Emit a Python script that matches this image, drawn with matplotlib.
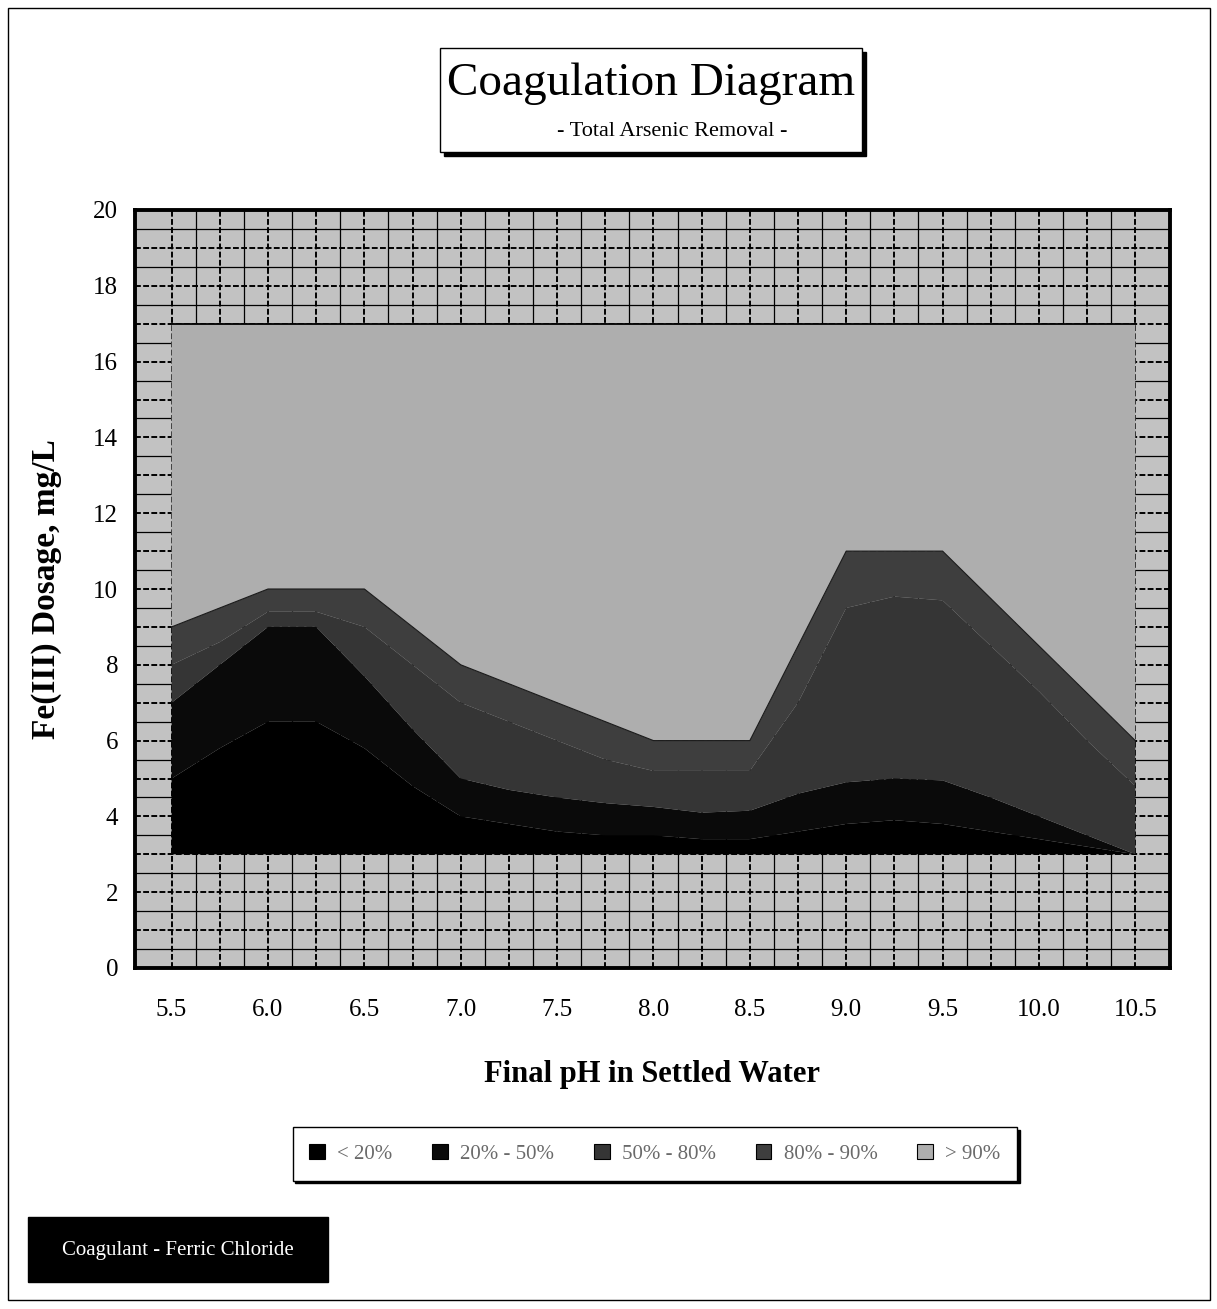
import numpy as np
import matplotlib
matplotlib.use("Agg")
import matplotlib.pyplot as plt
from matplotlib.patches import Rectangle, Patch

plt.rcParams['font.family'] = ['Liberation Serif', 'DejaVu Serif']

# ---------------- data ----------------
ph = [5.5, 5.75, 6.0, 6.25, 6.5, 6.75, 7.0, 7.25, 7.5, 7.75, 8.0,
      8.25, 8.5, 8.75, 9.0, 9.25, 9.5, 9.75, 10.0, 10.25, 10.5]
# lower limit of the diagram (mg/L)
base = [3, 3, 3, 3, 3, 3, 3, 3, 3, 3, 3, 3, 3, 3, 3, 3, 3, 3, 3, 3, 3]
# upper dosage boundary of each removal band (mg/L)
top_lt20 = [5.0, 5.8, 6.5, 6.5, 5.8, 4.8, 4.0, 3.8, 3.6, 3.5, 3.5,
            3.4, 3.4, 3.6, 3.8, 3.9, 3.8, 3.6, 3.4, 3.2, 3.0]
top_20_50 = [7.0, 8.0, 9.0, 9.0, 7.7, 6.3, 5.0, 4.7, 4.5, 4.35, 4.25,
             4.1, 4.15, 4.6, 4.9, 5.0, 4.95, 4.5, 4.0, 3.5, 3.0]
top_50_80 = [8.0, 8.6, 9.4, 9.4, 9.0, 8.0, 7.0, 6.5, 6.0, 5.5, 5.2,
             5.2, 5.2, 7.0, 9.5, 9.8, 9.7, 8.5, 7.3, 6.0, 4.8]
top_80_90 = [9.0, 9.5, 10.0, 10.0, 10.0, 9.0, 8.0, 7.5, 7.0, 6.5, 6.0,
             6.0, 6.0, 8.5, 11.0, 11.0, 11.0, 9.75, 8.5, 7.25, 6.0]
top_gt90 = [17, 17, 17, 17, 17, 17, 17, 17, 17, 17, 17,
            17, 17, 17, 17, 17, 17, 17, 17, 17, 17]

band_labels = ["< 20%", "20% - 50%", "50% - 80%", "80% - 90%", "> 90%"]
band_colors = ["#000000", "#0a0a0a", "#353535", "#3e3e3e", "#aeaeae"]

x_ticks = [5.5, 6.0, 6.5, 7.0, 7.5, 8.0, 8.5, 9.0, 9.5, 10.0, 10.5]
y_ticks = [0, 2, 4, 6, 8, 10, 12, 14, 16, 18, 20]

W, H = 1217, 1309


def fx(px):
    return px / W


def fy(py):
    return 1 - py / H


fig = plt.figure(figsize=(W / 100, H / 100), dpi=100)
fig.patch.set_facecolor("white")

# outer border
fig.add_artist(Rectangle((fx(8), fy(1300)), fx(1210) - fx(8), fy(8) - fy(1300),
                         transform=fig.transFigure, fill=False, edgecolor="black", lw=1.0))

ax = fig.add_axes([fx(135), fy(968), fx(1170) - fx(135), fy(210) - fy(968)])
ax.set_facecolor("#c2c2c2")
ax.set_xlim(5.31, 10.68)
ax.set_ylim(0, 20)

# grid
for yv in np.arange(0.5, 20, 0.5):
    if abs(yv - round(yv)) < 1e-9:
        ax.axhline(yv, color="black", lw=1.4, ls=(0, (3, 1.2)), zorder=1)
    else:
        ax.axhline(yv, color="black", lw=0.9, zorder=1)
xg = np.arange(5.5, 10.5 + 1e-9, 0.125)
for xv in xg:
    if abs(xv * 4 - round(xv * 4)) < 1e-9:
        ax.vlines(xv, 0, 20, color="black", lw=1.4, ls=(0, (3, 1.2)), zorder=1)
    else:
        ax.vlines(xv, 0, 20, color="black", lw=0.9, zorder=1)

# stacked bands
bounds = [base, top_lt20, top_20_50, top_50_80, top_80_90, top_gt90]
for i in range(5):
    ax.fill_between(ph, bounds[i], bounds[i + 1], facecolor=band_colors[i],
                    edgecolor="none", lw=0, zorder=2)
ax.plot(ph, top_gt90, color="black", lw=1.3, zorder=3)
ax.plot(ph, top_80_90, color="#1a1a1a", lw=0.8, zorder=3)

for s in ax.spines.values():
    s.set_linewidth(2.8)
    s.set_zorder(5)

ax.set_xticks(x_ticks)
ax.set_xticklabels([f"{v:.1f}" for v in x_ticks])
ax.set_yticks(y_ticks)
ax.set_yticklabels([str(v) for v in y_ticks])
ax.tick_params(axis="both", length=0, labelsize=18)
ax.tick_params(axis="x", pad=22)
ax.tick_params(axis="y", pad=12)

ax.set_xlabel("Final pH in Settled Water", fontsize=22, fontweight="bold")
ax.xaxis.set_label_coords(0.5, (968 - 1060) / 758)
ax.set_ylabel("Fe(III) Dosage, mg/L", fontsize=24, fontweight="bold")
ax.yaxis.set_label_coords((62 - 135) / 1035, 0.5)

# title box
fig.add_artist(Rectangle((fx(444), fy(156)), fx(862) - fx(440), fy(48) - fy(152),
                         transform=fig.transFigure, facecolor="black", edgecolor="black", lw=1))
fig.add_artist(Rectangle((fx(440), fy(152)), fx(862) - fx(440), fy(48) - fy(152),
                         transform=fig.transFigure, facecolor="white", edgecolor="black", lw=1))
fig.text(fx(651), fy(84), "Coagulation Diagram", fontsize=34, ha="center", va="center")
fig.text(fx(672), fy(131), "- Total Arsenic Removal -", fontsize=16, ha="center", va="center")

# legend
handles = [Patch(facecolor=c, edgecolor="black", lw=0.8) for c in band_colors]
leg = fig.legend(handles, band_labels, loc="center", bbox_to_anchor=(fx(655), fy(1154)),
                 ncol=5, frameon=True, fancybox=False, fontsize=15,
                 handlelength=0.75, handleheight=0.75, handletextpad=0.6,
                 columnspacing=1.9, borderpad=0.8,
                 shadow={"color": "black", "alpha": 1.0})
leg.get_frame().set_edgecolor("black")
leg.get_frame().set_linewidth(1.0)
for t in leg.get_texts():
    t.set_color("#6a6a6a")

# coagulant box
fig.add_artist(Rectangle((fx(28), fy(1282)), fx(328) - fx(28), fy(1217) - fy(1282),
                         transform=fig.transFigure, facecolor="black", edgecolor="black"))
fig.text(fx(178), fy(1250), "Coagulant - Ferric Chloride", fontsize=15, color="white",
         ha="center", va="center")

fig.savefig("out.png", dpi=100)
